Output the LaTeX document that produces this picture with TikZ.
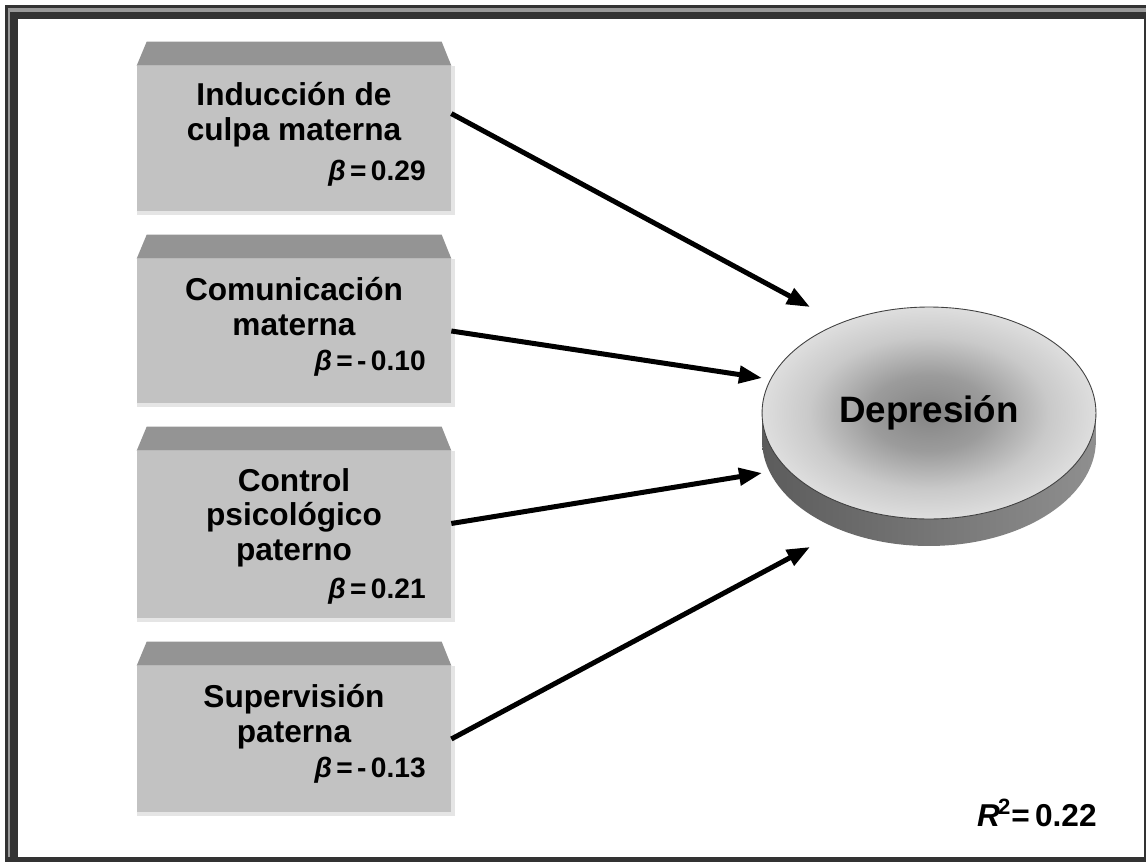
\documentclass[tikz,border=0pt]{standalone}
\usepackage{fontspec}
\setmainfont{Liberation Sans}
\usepackage{tikz}
\usetikzlibrary{shapes.geometric,arrows.meta}

\newcommand{\lblfont}{\fontsize{18pt}{19.6pt}\selectfont\bfseries}
\newcommand{\coeffont}{\fontsize{16pt}{18pt}\selectfont\bfseries}
\newcommand{\depfont}{\fontsize{20.9pt}{24pt}\selectfont\bfseries}
\newcommand{\bet}{\textit{β}\kern2.5pt=\kern2.5pt}

\pgfdeclareradialshading{depshade}{\pgfpoint{0bp}{0bp}}{color(0bp)=(black!48); color(9bp)=(black!39); color(18bp)=(black!21); color(25bp)=(black!13); color(50bp)=(black!13)}

\tikzset{
  front/.style={rectangle, fill=black!24, minimum width=6.28cm, inner sep=0pt},
  topface/.style={fill=black!42},
  rim/.style={draw=black!10, line width=2pt},
  lbl/.style={align=center, anchor=base, font=\lblfont, inner sep=0pt},
  coef/.style={anchor=base east, font=\coeffont, inner sep=0pt},
  effect/.style={-{Triangle[length=0.46cm,width=0.34cm]}, line width=0.1cm},
  framedark/.style={fill=black!80},
  framegray/.style={fill=black!40}
}

\begin{document}
\begin{tikzpicture}[x=0.02cm, y=-0.02cm]
\useasboundingbox (0,0) rectangle (1146,862);
\fill[white] (0,0) rectangle (1146,862);

% Frame
\fill[framedark] (5,5) rectangle (1146,8);
\fill[framegray] (7.5,8) rectangle (1146,11.5);
\fill[framedark] (10,11.5) rectangle (1146,19);
\fill[framedark] (5,5) rectangle (7.5,862);
\fill[framegray] (7.5,8) rectangle (10,862);
\fill[framedark] (10,11.5) rectangle (17.5,862);
\fill[framedark] (1143.5,19) rectangle (1146,862);
\fill[framedark] (5,856.5) rectangle (1146,862);

% Predictor boxes (Left)
\node[front, minimum height=2.90cm] (b1) at (294,138.5) {};
\node[front, minimum height=2.88cm] (b2) at (294,331) {};
\node[front, minimum height=3.34cm] (b3) at (294,534.5) {};
\node[front, minimum height=2.92cm] (b4) at (294,739) {};
\foreach \b in {b1,b2,b3,b4} {
  \fill[topface] (\b.north west) -- ++(10,-24) -- ++(295,0) -- (\b.north east) -- cycle;
  \draw[rim] ([yshift=-1pt]\b.south west) -- ([shift={(1pt,-1pt)}]\b.south east) -- ([xshift=1pt]\b.north east);
}

% Box labels (anchored at the last line)
\node[lbl] (l1) at (294,140) {Inducción de\\culpa materna};
\node[coef] (c1) at (426,180) {\bet 0.29};
\node[lbl] (l2) at (294,335) {Comunicación\\materna};
\node[coef] (c2) at (426,370) {\bet -\kern2.5pt0.10};
\node[lbl] (l3) at (294,560) {Control\\psicológico\\paterno};
\node[coef] (c3) at (426,598) {\bet 0.21};
\node[lbl] (l4) at (294,742) {Supervisión\\paterna};
\node[coef] (c4) at (426,777) {\bet -\kern2.5pt0.13};

% Outcome disc (Right)
\shade[left color=black!64, right color=black!44] (762,413) -- (762,440)
  arc[start angle=180, end angle=360, x radius=3.34cm, y radius=2.12cm] -- (1096,413) -- cycle;
\node[ellipse, minimum width=6.68cm, minimum height=4.24cm, inner sep=0pt,
  shade, shading=depshade, draw=black!75, line width=0.5pt, font=\depfont] (dep) at (929,413) {Depresión};

% Arrow tips
\coordinate (t1) at (810,307);
\coordinate (t2) at (762,378);
\coordinate (t3) at (762,473);
\coordinate (t4) at (810,547);

% Paths
\draw[effect] (b1.9) -- (t1);
\draw[effect] (b2.east) -- (t2);
\draw[effect] (b3.4) -- (t3);
\draw[effect] (b4.east) -- (t4);

% Explained variance
\node[coef, font=\lblfont] (rsq) at (1097,826) {\textit{R}\kern-1pt\textsuperscript{2}=\kern3pt0.22};
\end{tikzpicture}
\end{document}
